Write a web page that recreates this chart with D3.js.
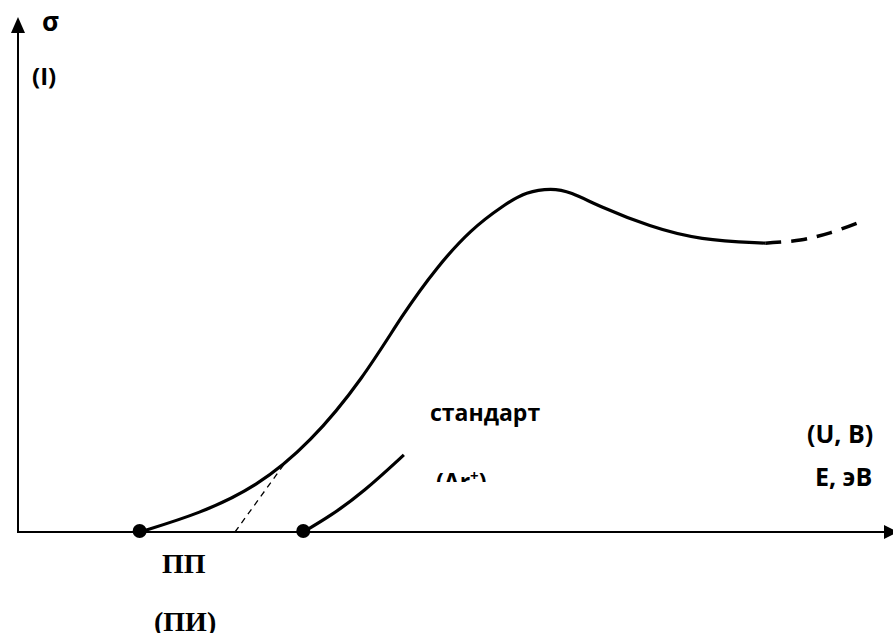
<!DOCTYPE html>
<html><head><meta charset="utf-8">
<script src="https://cdn.jsdelivr.net/npm/d3@7"></script>
<style>html,body{margin:0;padding:0;background:#fff;} svg{display:block;}</style>
</head><body>
<svg id="chart" width="893" height="633"></svg>
<script>
// Main cross-section curve (solid part), data units (E, sigma)
const mainCurveE = [1.39, 2.08, 2.73, 3.34, 3.95, 4.40, 4.79, 5.17, 5.55, 5.81, 6.10, 6.31, 6.65, 7.22, 7.79, 8.54];
const mainCurveS = [0.00, 0.36, 0.88, 1.73, 3.00, 4.25, 5.16, 5.88, 6.36, 6.62, 6.69, 6.62, 6.33, 5.94, 5.68, 5.62];
// Dashed continuation at high energy
const tailE = [8.54, 8.94, 9.28, 9.62];
const tailS = [5.62, 5.68, 5.82, 6.03];
// Linear extrapolation (thin dashed)
const extrapE = [2.48, 3.05];
const extrapS = [0.00, 1.34];
// Standard (Ar+) curve
const stdE = [3.26, 3.57, 3.95, 4.41];
const stdS = [0.00, 0.31, 0.78, 1.50];
// Threshold points
const dotE = [1.39, 3.26];

const svg = d3.select("#chart");
const x = d3.scaleLinear().domain([0, 10]).range([18, 893]);
const y = d3.scaleLinear().domain([0, 10]).range([532, 18]);

const zip = (a, b) => a.map((v, i) => [v, b[i]]);
const smooth = d3.line().x(d => x(d[0])).y(d => y(d[1])).curve(d3.curveBasis);
const tailLine = d3.line().x(d => x(d[0])).y(d => y(d[1])).curve(d3.curveCatmullRom.alpha(0.5));
const straight = d3.line().x(d => x(d[0])).y(d => y(d[1]));

// Axes
svg.append("line").attr("x1", x(0)).attr("y1", y(0)).attr("x2", 885).attr("y2", y(0))
  .attr("stroke", "#000").attr("stroke-width", 2);
svg.append("line").attr("x1", x(0)).attr("y1", y(0)+1).attr("x2", x(0)).attr("y2", 30)
  .attr("stroke", "#000").attr("stroke-width", 2);
svg.append("path").attr("d", `M${x(0)-7},33 L${x(0)},17 L${x(0)+7},33 Z`).attr("fill", "#000");
svg.append("path").attr("d", `M884,${y(0)-7} L898,${y(0)} L884,${y(0)+7} Z`).attr("fill", "#000");

// Curves
svg.append("path").attr("d", smooth(zip(mainCurveE, mainCurveS)))
  .attr("fill", "none").attr("stroke", "#000").attr("stroke-width", 3.2);
svg.append("path").attr("d", tailLine(zip(tailE, tailS)))
  .attr("fill", "none").attr("stroke", "#000").attr("stroke-width", 3.5).attr("stroke-dasharray", "16,10");
svg.append("path").attr("d", straight(zip(extrapE, extrapS)))
  .attr("fill", "none").attr("stroke", "#000").attr("stroke-width", 1.3).attr("stroke-dasharray", "6,5");
svg.append("path").attr("d", smooth(zip(stdE, stdS)))
  .attr("fill", "none").attr("stroke", "#000").attr("stroke-width", 3.2);

svg.selectAll("circle.dot").data(dotE).join("circle").attr("class", "dot")
  .attr("cx", d => x(d)).attr("cy", y(0)-1).attr("r", 7).attr("fill", "#000");

// Labels
const sans = "'Open Sans', 'Liberation Sans', sans-serif";
const serif = "'Liberation Serif', 'DejaVu Serif', serif";
svg.append("text").attr("x", 42).attr("y", 31).text("σ")
  .attr("font-family", sans).attr("font-weight", "bold").attr("font-size", 26);
svg.append("text").attr("x", 32).attr("y", 85).text("(I)")
  .attr("font-family", sans).attr("font-weight", "bold").attr("font-size", 24);
svg.append("text").attr("x", 430).attr("y", 421).text("стандарт")
  .attr("font-family", sans).attr("font-weight", "bold").attr("font-size", 23);

svg.append("defs").append("clipPath").attr("id", "clipAr")
  .append("rect").attr("x", 420).attr("y", 440).attr("width", 120).attr("height", 42);
const ar = svg.append("text").attr("x", 436).attr("y", 490).attr("clip-path", "url(#clipAr)")
  .attr("font-family", sans).attr("font-weight", "bold").attr("font-size", 23);
ar.append("tspan").text("(Ar");
ar.append("tspan").text("+").attr("font-size", 15).attr("dy", -9);
ar.append("tspan").text(")").attr("dy", 9);

svg.append("text").attr("x", 807).attr("y", 443).text("(U, B)")
  .attr("font-family", sans).attr("font-weight", "bold").attr("font-size", 25);
svg.append("text").attr("x", 815).attr("y", 486).text("E, эВ")
  .attr("font-family", sans).attr("font-weight", "bold").attr("font-size", 25);
svg.append("text").attr("x", 162).attr("y", 573).text("ПП")
  .attr("font-family", serif).attr("font-weight", "bold").attr("font-size", 28);
svg.append("text").attr("x", 154).attr("y", 631).text("(ПИ)")
  .attr("font-family", serif).attr("font-weight", "bold").attr("font-size", 28);
</script>
</body></html>
